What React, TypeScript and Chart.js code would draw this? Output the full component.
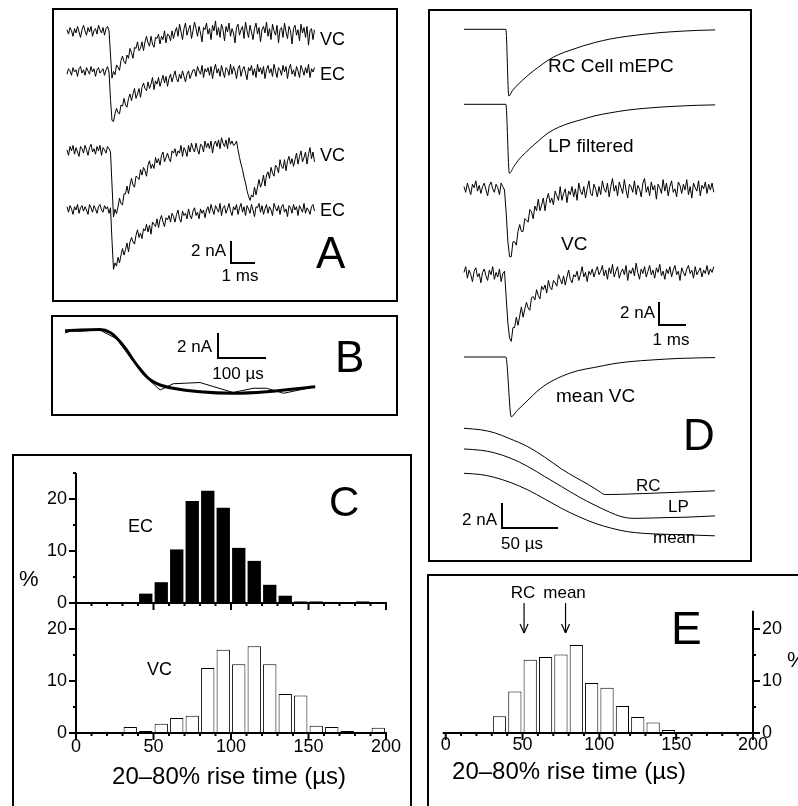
import React, { useEffect, useRef } from 'react';
import { Chart, registerables } from 'chart.js';

Chart.register(...registerables);

const FONT = '"Liberation Sans", Arial, Helvetica, sans-serif';

// ---------------- DATA ----------------
// Panel A: sampled currents (nA, relative to baseline), sample interval A_DT ms
const A_DT = 0.0625;
const A_VC1 = [0.3,-0.1,0.5,0.2,-0.3,0.4,0.0,0.6,0.1,-0.4,0.3,0.7,0.2,-0.2,0.5,0.1,0.6,-0.3,0.2,0.4,-0.1,0.7,0.3,0.0,0.5,-0.2,0.4,0.6,0.2,
  -2.0,-4.1,-3.5,-3.8,-2.9,-3.1,-3.4,-2.5,-2.1,-2.6,-2.8,-2.0,-2.3,-1.4,-1.8,-2.3,-1.3,-1.4,-0.8,-1.6,-1.4,-0.8,-1.6,-0.8,-0.3,-0.9,-1.2,-0.3,-1.0,-1.3,-0.4,-0.5,-0.1,-1.0,-0.3,-0.6,0.2,-0.9,-0.1,-0.2,-0.7,0.2,-0.5,0.1,
  0.5,-0.3,0.8,0.1,-0.6,0.4,0.9,-0.2,0.3,0.7,-0.5,0.2,1.0,0.4,-0.3,0.6,0.0,-0.8,0.5,0.3,0.9,-0.1,0.4,-0.6,0.7,0.2,1.1,-0.2,0.5,-0.4,
  0.8,0.3,-0.7,0.6,0.1,0.9,-0.3,0.4,0.0,-0.9,0.5,0.8,-0.2,0.3,0.6,-0.5,1.0,0.2,-0.4,0.7,0.1,-0.6,0.4,0.9,-0.1,0.5,-0.8,0.3,0.6,0.0,
  1.0,-0.3,0.4,-0.6,0.8,0.2,-0.2,0.7,-0.9,0.3,0.5,-0.4,0.9,0.1,-0.5,0.6,0.2,-1.0,0.4,0.7,-0.2,0.3,-0.7,0.8,0.0,0.5,-0.4,0.6,-1.1,0.2,
  0.4,-0.6,0.3];
const A_EC1 = [-0.2,0.3,0.1,-0.3,0.4,0.0,0.2,-0.4,0.3,0.5,-0.1,0.2,-0.3,0.4,0.1,-0.2,0.5,0.0,0.3,-0.4,0.2,0.4,-0.1,0.1,0.3,-0.3,0.2,0.5,0.0,
  -2.5,-4.4,-4.5,-3.8,-3.3,-3.7,-3.8,-3.0,-3.1,-2.4,-3.0,-3.2,-2.4,-2.0,-2.6,-2.0,-1.5,-2.4,-2.0,-1.5,-2.3,-1.4,-1.0,-1.5,-1.7,-0.9,-1.5,-1.1,-0.5,-1.6,
  -0.8,-1.1,-0.5,-1.3,-0.8,-0.3,-1.0,-0.4,-1.3,-0.6,-0.2,-0.9,-0.4,0.1,-0.6,-0.9,-0.2,-0.6,0.1,-0.4,-0.9,-0.2,0.1,-0.6,-0.2,0.2,
  0.2,-0.4,0.5,0.1,-0.2,0.6,-0.5,0.3,0.0,0.4,-0.3,0.5,-0.6,0.2,0.7,-0.1,0.3,-0.4,0.6,0.0,-0.5,0.4,0.2,-0.3,0.7,-0.2,0.5,0.1,-0.6,0.3,
  0.6,-0.4,0.2,0.5,-0.1,-0.7,0.4,0.1,0.6,-0.3,0.3,-0.5,0.7,0.0,0.4,-0.2,0.5,-0.6,0.2,0.6,-0.1,0.3,-0.4,0.7,0.1,-0.5,0.4,0.2,-0.3,0.6,
  0.0,0.5,-0.6,0.3,0.7,-0.2,0.2,-0.4,0.5,0.1,-0.5,0.6,0.2,-0.3,0.4,-0.1,0.7,-0.5,0.3,0.0,0.4];
const A_VC2 = [0.2,-0.3,0.5,0.1,0.6,-0.2,0.4,0.0,-0.4,0.5,0.3,-0.1,0.6,0.2,-0.3,0.4,0.7,0.0,0.3,-0.2,0.5,0.1,0.6,-0.3,0.4,0.2,-0.1,0.5,0.3,0.0,
  -3.0,-5.9,-5.2,-5.6,-5.0,-4.2,-4.7,-4.8,-3.8,-3.8,-3.1,-3.8,-3.0,-2.4,-3.0,-3.2,-2.2,-2.3,-2.5,-1.6,-2.1,
  -1.4,-1.7,-2.2,-1.2,-0.8,-1.5,-1.1,-1.5,-0.5,-1.0,-0.6,-1.2,-0.3,0.0,-0.9,-0.5,-0.1,-0.6,-0.9,0.1,
  -0.1,0.3,-0.4,0.1,-0.1,0.6,-0.4,0.4,0.1,-0.4,0.6,0.0,0.8,0.3,0.0,0.8,0.2,-0.2,0.7,0.6,
  0.0,1.0,0.4,0.8,0.3,1.0,-0.1,0.7,1.0,0.5,1.1,0.3,1.3,0.8,0.5,1.1,0.3,1.3,0.7,1.0,0.6,
  0.7,1.0,0.2,-0.5,-1.1,-1.6,-2.3,-2.8,-3.5,-4.0,-4.4,
  -3.9,-4.1,-3.2,-3.9,-3.2,-2.5,-3.2,-2.8,-2.1,-3.1,-2.1,-1.8,-2.4,-1.4,-1.9,-2.2,-1.2,-1.4,-1.9,-0.7,
  -1.3,-1.5,-0.7,-1.7,-0.8,-0.4,-1.1,-0.6,-1.3,-0.7,-0.1,-1.1,-0.4,0.1,-0.9,-0.5,0.0,-1.1,-0.2,0.4,
  -0.6,0.0,-0.9];
const A_EC2 = [0.3,-0.2,0.4,0.1,-0.4,0.3,0.0,0.5,-0.3,0.2,0.4,-0.1,0.3,0.0,-0.4,0.5,0.2,-0.2,0.4,0.1,-0.3,0.3,0.5,0.0,-0.2,0.4,0.1,0.3,-0.3,0.2,
  -2.8,-5.4,-4.8,-5.1,-4.3,-4.8,-4.1,-3.5,-4.1,-3.6,-3.0,-3.8,-2.9,-2.5,-2.9,-3.1,-2.3,-1.8,-2.5,-2.1,-2.6,
  -1.7,-1.9,-1.3,-2.0,-1.4,-2.2,-1.1,-1.3,-1.5,-0.8,-1.6,-0.9,-0.5,-1.1,-1.5,-0.7,-0.9,-0.5,-1.1,-0.3,
  -0.6,-1.1,-0.4,0.0,-0.8,-1.1,-0.1,-0.5,-0.3,-0.8,0.1,-0.5,-0.8,-0.1,0.2,-0.5,-0.2,-0.8,0.1,-0.3,0.0,-0.7,0.0,
  0.3,-0.3,0.5,0.0,-0.4,0.4,0.1,-0.2,0.6,-0.5,0.2,0.4,-0.3,0.1,0.6,-0.1,-0.5,0.3,0.0,0.5,
  -0.4,0.2,0.6,-0.2,0.3,-0.5,0.4,0.1,-0.3,0.5,0.0,-0.6,0.3,0.2,0.6,-0.2,0.4,-0.4,0.1,0.5,
  -0.3,0.3,0.0,-0.5,0.6,0.2,-0.1,0.4,-0.4,0.3,0.5,-0.2,0.1,-0.6,0.4,0.2,-0.3,0.5,0.0,0.3,
  -0.5,0.4,0.1,-0.2,0.6,-0.3,0.2,0.0,-0.4,0.3,0.5,-0.1];

// Panel B: rising phase (time µs, current nA)
const B_FIT_T = [-4, 27, 69, 90, 104, 121, 138, 152, 166, 179, 194, 221, 277, 346, 416, 517];
const B_FIT_V = [-0.06, 0, 0.04, -0.2, -0.66, -1.44, -2.4, -3.12, -3.74, -4.12, -4.4, -4.66, -4.94, -5.06, -4.94, -4.54];
const B_RAW_T = [-4, 10, 27, 69, 104, 138, 166, 194, 221, 277, 346, 388, 416, 451, 517];
const B_RAW_V = [-0.24, -0.05, -0.1, 0.0, -0.72, -2.5, -3.84, -4.8, -4.3, -4.2, -5.0, -4.66, -4.66, -5.06, -4.54];

// Panel C / E histograms (% per 10 µs bin)
const BIN_START = [0,10,20,30,40,50,60,70,80,90,100,110,120,130,140,150,160,170,180,190];
const BIN_W = 10;
const EC_PCT = [0,0,0,0,1.8,4.0,10.3,19.6,21.6,18.3,10.6,8.1,3.5,1.4,0.3,0.3,0.2,0,0.3,0];
const VC_PCT = [0,0,0,1.15,0.4,1.8,2.9,3.3,12.5,16.0,13.2,16.7,13.2,7.5,7.2,1.4,1.15,0.4,0,1.0];
const E_PCT = [0,0,0,3.2,8.0,14.1,14.6,15.1,16.9,9.6,8.7,5.2,3.1,2.0,0.6,0,0,0,0,0];
const X_TICKS = [0, 50, 100, 150, 200];
const Y_TICKS = [0, 10, 20];
const E_MARK_LABELS = ['RC', 'mean'];
const E_MARK_VALUES = [51, 78];

// Panel D: slow traces (time ms, current nA)
const D_RC_T = [0, 1.55, 1.66, 1.8, 2.0, 2.37, 2.75, 3.11, 3.5, 3.96, 4.4, 4.85, 5.4, 6.07, 6.7, 7.3, 8.0, 8.6, 9.3];
const D_RC_V = [0, 0, -5.8, -5.3, -4.8, -4.0, -3.3, -2.7, -2.2, -1.8, -1.45, -1.15, -0.85, -0.6, -0.42, -0.28, -0.17, -0.1, -0.05];
const D_LP_T = [0, 1.55, 1.68, 1.85, 2.0, 2.37, 2.75, 3.11, 3.5, 3.96, 4.4, 4.85, 5.4, 6.07, 6.7, 7.3, 8.0, 8.6, 9.3];
const D_LP_V = [0, 0, -6.0, -5.4, -4.9, -4.0, -3.2, -2.5, -2.0, -1.6, -1.3, -1.0, -0.75, -0.5, -0.35, -0.24, -0.15, -0.09, -0.05];
const D_MVC_T = [0, 1.55, 1.75, 1.95, 2.37, 2.7, 3.0, 3.6, 4.2, 4.85, 5.5, 6.07, 7.0, 8.0, 9.3];
const D_MVC_V = [0, 0, -5.2, -4.7, -3.75, -3.0, -2.45, -1.7, -1.2, -0.9, -0.6, -0.42, -0.25, -0.12, -0.05];
const D_DT = 0.0625;
const D_VC1 = [0.3,-0.2,0.6,0.1,-0.4,0.5,0.2,0.8,-0.1,0.4,-0.3,0.3,0.6,0.0,-0.5,0.4,0.7,0.1,-0.2,0.5,0.2,-0.4,0.6,0.3,0.0,
  -2.0,-4.5,-5.8,-5.8,-4.5,-4.5,-4.8,-3.6,-3.0,-3.6,-3.6,-2.5,-2.6,-2.8,-1.7,-1.9,-2.5,-1.4,-1.8,-0.8,-1.8,-1.3,-0.7,-1.8,-0.8,-0.3,
  -1.1,-0.7,-1.3,-0.1,-0.5,-0.9,0.3,-0.9,-0.3,0.1,-1.1,-0.1,-0.4,0.3,-0.6,0.1,-0.9,0.6,-0.1,-0.4,0.3,-0.7,0.1,0.8,-0.3,-0.5,0.5,0.1,-0.6,0.3,
  -0.4,0.8,0.1,-0.2,0.6,-0.6,0.3,1.0,-0.1,0.4,-0.5,0.7,0.2,-0.3,0.9,0.0,-0.7,0.5,0.3,-0.2,
  0.8,-0.4,0.4,0.1,-0.6,0.6,1.0,-0.2,0.3,-0.5,0.7,0.0,0.4,-0.8,0.5,0.2,-0.3,0.9,-0.1,0.6,
  -0.5,0.3,0.8,-0.2,0.1,-0.6,0.7,0.4,-0.3,0.5,0.0,0.9,-0.4,0.3,-0.7,0.6,0.2,-0.1,0.8,-0.5,
  0.4,0.1,0.7,-0.3,0.5,0.0,0.6,-0.2];
const D_VC2 = [0.4,0.9,-0.1,0.6,0.2,-0.4,0.5,0.8,0.0,0.3,-0.5,0.4,0.7,0.1,-0.3,0.6,0.2,0.9,-0.2,0.4,0.0,0.7,-0.4,0.3,0.5,
  -1.8,-4.0,-5.3,-5.6,-4.4,-4.4,-3.5,-4.2,-3.4,-2.6,-3.5,-2.8,-2.2,-2.7,-2.9,-1.8,-1.7,-2.0,-1.1,-1.6,-1.9,-0.8,-1.1,-0.7,-1.4,-0.3,
  -0.9,-1.1,-0.3,-0.5,-0.8,0.2,-0.2,-0.6,0.1,-0.7,0.0,0.6,-0.2,-0.5,0.2,0.0,0.5,-0.3,0.2,0.9,0.0,0.4,-0.4,0.5,0.2,0.7,0.0,0.5,0.9,0.2,
  0.5,1.0,0.1,0.6,-0.2,0.8,0.3,1.1,0.0,0.5,0.9,-0.1,0.4,0.7,0.2,1.0,-0.3,0.6,0.3,0.8,
  0.1,1.2,0.4,-0.2,0.7,0.3,0.9,0.0,0.5,1.0,0.2,0.6,-0.1,0.8,0.4,1.1,0.1,0.5,-0.2,0.7,
  0.3,0.9,0.0,0.6,1.0,0.2,0.5,-0.3,0.8,0.4,0.1,0.7,1.0,0.3,0.6,-0.1,0.9,0.2,0.5,0.8,
  0.0,0.6,0.3,1.0,0.2,0.7,0.4,0.9];
// Panel D: fast rising phases (time µs, current nA)
const D_RCF_T = [0, 15, 27, 40, 57, 72, 87, 100, 111, 120, 126, 140, 160, 190, 224];
const D_RCF_V = [0, -0.12, -0.35, -0.8, -1.47, -2.3, -3.25, -3.95, -4.5, -5.0, -5.3, -5.28, -5.22, -5.12, -5.0];
const D_LPF_T = [0, 15, 27, 42, 57, 72, 87, 102, 117, 130, 140, 152, 175, 200, 224];
const D_LPF_V = [0, -0.1, -0.3, -0.75, -1.4, -2.2, -3.0, -3.8, -4.5, -5.05, -5.4, -5.55, -5.5, -5.45, -5.35];
const D_MF_T = [0, 15, 27, 42, 57, 72, 87, 102, 117, 132, 146, 160, 176, 200, 224];
const D_MF_V = [0, -0.1, -0.32, -0.75, -1.33, -2.05, -2.8, -3.45, -4.0, -4.4, -4.67, -4.8, -4.87, -4.93, -5.0];

// ---------------- HELPERS ----------------
type Txt = [string, number, number, number, CanvasTextAlign?];

const sampled = (vals: number[], dt: number, off: number) => vals.map((v, i) => ({ x: i * dt, y: v + off }));
const paired = (ts: number[], vals: number[], off: number) => ts.map((t, i) => ({ x: t, y: vals[i] + off }));

const lineDs = (data: any[], extra: any = {}) => ({
  type: 'line', data, borderColor: '#000', borderWidth: 1, pointRadius: 0, fill: false, tension: 0, ...extra,
});

const baseOpts = (padding: any, scales: any) => ({
  responsive: false, animation: false, devicePixelRatio: 1, events: [],
  layout: { padding },
  plugins: { legend: { display: false }, tooltip: { enabled: false }, title: { display: false } },
  scales,
});

function decoPlugin(ox: number, oy: number, texts: Txt[], draw?: (chart: any, ctx: CanvasRenderingContext2D) => void) {
  return {
    id: 'deco',
    afterDatasetsDraw(chart: any) {
      const ctx: CanvasRenderingContext2D = chart.ctx;
      ctx.save();
      ctx.strokeStyle = '#000';
      ctx.fillStyle = '#000';
      if (draw) draw(chart, ctx);
      ctx.textBaseline = 'middle';
      for (const [t, x, y, s, a] of texts) {
        ctx.font = `${s}px ${FONT}`;
        ctx.textAlign = a || 'left';
        ctx.fillText(t, x - ox, y - oy);
      }
      ctx.restore();
    },
  };
}

function seg(ctx: CanvasRenderingContext2D, a: number, b: number, c: number, d: number) {
  ctx.beginPath(); ctx.moveTo(a, b); ctx.lineTo(c, d); ctx.stroke();
}

function scaleBar(chart: any, ctx: CanvasRenderingContext2D, cx: number, cy: number, xId: string, yId: string, dx: number, dy: number) {
  const xs = chart.scales[xId], ys = chart.scales[yId];
  const w = xs.getPixelForValue(dx) - xs.getPixelForValue(0);
  const h = ys.getPixelForValue(0) - ys.getPixelForValue(dy);
  ctx.lineWidth = 2;
  ctx.beginPath(); ctx.moveTo(cx, cy - h); ctx.lineTo(cx, cy); ctx.lineTo(cx + w, cy); ctx.stroke();
}

function histAxes(chart: any, ctx: CanvasRenderingContext2D, side: 'left' | 'right', yMax: number, xLabelDy: number | null) {
  const x = chart.scales.x, y = chart.scales.y;
  const px0 = x.getPixelForValue(0), px1 = x.getPixelForValue(200);
  const py0 = y.getPixelForValue(0), pyT = y.getPixelForValue(yMax);
  const ax = side === 'left' ? px0 : px1;
  const dir = side === 'left' ? -1 : 1;
  ctx.lineWidth = 2;
  seg(ctx, ax, pyT, ax, py0 + 1);
  seg(ctx, px0 - 3, py0, px1 + 1, py0);
  for (let v = 0; v <= 200; v += 10) {
    const p = x.getPixelForValue(v);
    seg(ctx, p, py0, p, py0 + (v % 50 === 0 ? 7 : 3));
  }
  for (let v = 0; v <= yMax + 1e-6; v += 5) {
    const p = y.getPixelForValue(v);
    seg(ctx, ax, p, ax + dir * (v % 10 === 0 ? 7 : 3), p);
  }
  ctx.font = `18px ${FONT}`;
  ctx.textBaseline = 'middle';
  ctx.textAlign = side === 'left' ? 'right' : 'left';
  for (const t of Y_TICKS) ctx.fillText(String(t), ax + dir * 9, y.getPixelForValue(t));
  if (xLabelDy !== null) {
    ctx.textAlign = 'center';
    for (const t of X_TICKS) ctx.fillText(String(t), x.getPixelForValue(t), py0 + xLabelDy);
  }
}

function ChartCanvas({ left, top, width, height, build }: { left: number; top: number; width: number; height: number; build: () => any }) {
  const ref = useRef<HTMLCanvasElement>(null);
  useEffect(() => {
    const chart = new Chart(ref.current as HTMLCanvasElement, build());
    return () => chart.destroy();
  }, []);
  return <canvas ref={ref} width={width} height={height} style={{ position: 'absolute', left, top, width, height }} />;
}

function Box({ l, t, w, h }: { l: number; t: number; w: number; h: number }) {
  return <div style={{ position: 'absolute', left: l, top: t, width: w, height: h, border: '2px solid #000', boxSizing: 'border-box' }} />;
}

// ---------------- PANELS ----------------
// Panel A
const A_C = { l: 54, t: 10, w: 342, h: 290 };
const A_PXMS = 24, A_PXNA = 11, A_X0 = 67;
const aOff = (py: number) => (A_C.t + A_C.h - py) / A_PXNA;
const buildA = () => ({
  type: 'line',
  data: {
    datasets: [
      lineDs(sampled(A_VC1, A_DT, aOff(33))),
      lineDs(sampled(A_EC1, A_DT, aOff(72))),
      lineDs(sampled(A_VC2, A_DT, aOff(152))),
      lineDs(sampled(A_EC2, A_DT, aOff(210))),
    ],
  },
  options: baseOpts(0, {
    x: { type: 'linear', display: false, min: (A_C.l - A_X0) / A_PXMS, max: (A_C.l - A_X0 + A_C.w) / A_PXMS },
    y: { type: 'linear', display: false, min: 0, max: A_C.h / A_PXNA },
  }),
  plugins: [decoPlugin(A_C.l, A_C.t, [
    ['VC', 320, 40, 18], ['EC', 320, 75, 18], ['VC', 320, 156, 18], ['EC', 320, 211, 18],
    ['2 nA', 226, 251, 17, 'right'], ['1 ms', 240, 276, 17, 'center'], ['A', 316, 256, 44],
  ], (chart, ctx) => scaleBar(chart, ctx, 231 - A_C.l, 263 - A_C.t, 'x', 'y', 1, 2))],
});

// Panel B
const B_C = { l: 53, t: 317, w: 343, h: 97 };
const B_PXUS = 0.48, B_PXNA = 12.5, B_X0 = 67;
const bOff = (py: number) => (B_C.t + B_C.h - py) / B_PXNA;
const buildB = () => ({
  type: 'line',
  data: {
    datasets: [
      lineDs(paired(B_RAW_T, B_RAW_V, bOff(330)), { borderWidth: 1 }),
      lineDs(paired(B_FIT_T, B_FIT_V, bOff(330)), { borderWidth: 3, cubicInterpolationMode: 'monotone' }),
    ],
  },
  options: baseOpts(0, {
    x: { type: 'linear', display: false, min: (B_C.l - B_X0) / B_PXUS, max: (B_C.l - B_X0 + B_C.w) / B_PXUS },
    y: { type: 'linear', display: false, min: 0, max: B_C.h / B_PXNA },
  }),
  plugins: [decoPlugin(B_C.l, B_C.t, [
    ['2 nA', 212, 347, 17, 'right'], ['100 µs', 238, 374, 17, 'center'], ['B', 335, 360, 44],
  ], (chart, ctx) => scaleBar(chart, ctx, 218 - B_C.l, 358 - B_C.t, 'x', 'y', 100, 2))],
});

// Panel C
const C_C = { l: 14, t: 456, w: 396, h: 350 };
const histData = (vals: number[]) => BIN_START.map((b, i) => ({ x: b + BIN_W / 2, y: vals[i] }));
const histScales = (yMax: number) => ({
  x: { type: 'linear', display: false, min: 0, max: 200, offset: false },
  y: { type: 'linear', display: false, min: 0, max: yMax },
});
const buildCTop = () => ({
  type: 'bar',
  data: { datasets: [{ data: histData(EC_PCT), backgroundColor: '#000', borderWidth: 0, barPercentage: 0.86, categoryPercentage: 1 }] },
  options: baseOpts({ left: 62, right: 24, top: 17, bottom: 203 }, histScales(25)),
  plugins: [decoPlugin(C_C.l, C_C.t, [
    ['EC', 128, 527, 18], ['%', 19, 580, 22], ['C', 329, 504, 42],
  ], (chart, ctx) => histAxes(chart, ctx, 'left', 25, null))],
});
const buildCBot = () => ({
  type: 'bar',
  data: { datasets: [{ data: histData(VC_PCT), backgroundColor: '#fff', borderColor: '#000', borderWidth: 1, barPercentage: 0.86, categoryPercentage: 1 }] },
  options: baseOpts({ left: 62, right: 24, top: 147, bottom: 73 }, histScales(25)),
  plugins: [decoPlugin(C_C.l, C_C.t, [
    ['VC', 147, 670, 18], ['20–80% rise time (µs)', 229, 777, 24, 'center'],
  ], (chart, ctx) => histAxes(chart, ctx, 'left', 25, 14))],
});

// Panel D
const D_C = { l: 430, t: 11, w: 320, h: 549 };
const D_PXMS = 27, D_PXNA = 11.5, D_PXUS = 1.12, D_PXNA2 = 12.5, D_X0 = 464;
const dOff = (py: number) => (D_C.t + D_C.h - py) / D_PXNA;
const dOff2 = (py: number) => (D_C.t + D_C.h - py) / D_PXNA2;
const mono = { cubicInterpolationMode: 'monotone' };
const buildD = () => ({
  type: 'line',
  data: {
    datasets: [
      lineDs(paired(D_RC_T, D_RC_V, dOff(29.3)), mono),
      lineDs(paired(D_LP_T, D_LP_V, dOff(104.3)), mono),
      lineDs(sampled(D_VC1, D_DT, dOff(190))),
      lineDs(sampled(D_VC2, D_DT, dOff(277))),
      lineDs(paired(D_MVC_T, D_MVC_V, dOff(357)), mono),
      lineDs(paired(D_RCF_T, D_RCF_V, dOff2(428.3)), { ...mono, xAxisID: 'x2', yAxisID: 'y2' }),
      lineDs(paired(D_LPF_T, D_LPF_V, dOff2(449)), { ...mono, xAxisID: 'x2', yAxisID: 'y2' }),
      lineDs(paired(D_MF_T, D_MF_V, dOff2(473.3)), { ...mono, xAxisID: 'x2', yAxisID: 'y2' }),
    ],
  },
  options: baseOpts(0, {
    x: { type: 'linear', display: false, min: (D_C.l - D_X0) / D_PXMS, max: (D_C.l - D_X0 + D_C.w) / D_PXMS },
    y: { type: 'linear', display: false, min: 0, max: D_C.h / D_PXNA },
    x2: { type: 'linear', display: false, min: (D_C.l - D_X0) / D_PXUS, max: (D_C.l - D_X0 + D_C.w) / D_PXUS },
    y2: { type: 'linear', display: false, min: 0, max: D_C.h / D_PXNA2 },
  }),
  plugins: [decoPlugin(D_C.l, D_C.t, [
    ['RC Cell mEPC', 548, 67, 19], ['LP filtered', 548, 147, 19], ['VC', 561, 245, 19],
    ['2 nA', 655, 313, 17, 'right'], ['1 ms', 671, 340, 17, 'center'], ['mean VC', 556, 397, 19],
    ['D', 683, 438, 44], ['RC', 636, 486, 17], ['LP', 668, 507, 17], ['mean', 653, 538, 17],
    ['2 nA', 497, 520, 17, 'right'], ['50 µs', 501, 544, 17],
  ], (chart, ctx) => {
    scaleBar(chart, ctx, 659 - D_C.l, 325 - D_C.t, 'x', 'y', 1, 2);
    scaleBar(chart, ctx, 502 - D_C.l, 528 - D_C.t, 'x2', 'y2', 50, 2);
  })],
});

// Panel E
const E_C = { l: 429, t: 576, w: 369, h: 230 };
const buildE = () => ({
  type: 'bar',
  data: { datasets: [{ data: histData(E_PCT), backgroundColor: '#fff', borderColor: '#000', borderWidth: 1, barPercentage: 0.86, categoryPercentage: 1 }] },
  options: baseOpts({ left: 16.7, right: 45, top: 34.8, bottom: 73 }, histScales(23.5)),
  plugins: [decoPlugin(E_C.l, E_C.t, [
    ['20–80% rise time (µs)', 569, 772, 24, 'center'], ['E', 671, 631, 46], ['%', 787, 661, 22],
  ], (chart, ctx) => {
    histAxes(chart, ctx, 'right', 23.5, 12);
    const x = chart.scales.x;
    ctx.lineWidth = 1.2;
    ctx.font = `17px ${FONT}`;
    ctx.textAlign = 'center';
    ctx.textBaseline = 'middle';
    E_MARK_VALUES.forEach((v, i) => {
      const px = x.getPixelForValue(v);
      const y1 = 603 - E_C.t, y2 = 633 - E_C.t;
      seg(ctx, px, y1, px, y2);
      seg(ctx, px - 4, y2 - 9, px, y2);
      seg(ctx, px + 4, y2 - 9, px, y2);
      ctx.fillText(E_MARK_LABELS[i], px - 1, 593 - E_C.t);
    });
  })],
});

export default function App() {
  return (
    <div style={{ position: 'absolute', left: 0, top: 0, width: 798, height: 806, overflow: 'hidden', background: '#fff' }}>
      <Box l={52} t={8} w={346} h={294} />
      <Box l={51} t={315} w={347} h={101} />
      <Box l={12} t={454} w={400} h={400} />
      <Box l={428} t={9} w={324} h={553} />
      <Box l={427} t={574} w={420} h={300} />
      <ChartCanvas left={A_C.l} top={A_C.t} width={A_C.w} height={A_C.h} build={buildA} />
      <ChartCanvas left={B_C.l} top={B_C.t} width={B_C.w} height={B_C.h} build={buildB} />
      <ChartCanvas left={C_C.l} top={C_C.t} width={C_C.w} height={C_C.h} build={buildCTop} />
      <ChartCanvas left={C_C.l} top={C_C.t} width={C_C.w} height={C_C.h} build={buildCBot} />
      <ChartCanvas left={D_C.l} top={D_C.t} width={D_C.w} height={D_C.h} build={buildD} />
      <ChartCanvas left={E_C.l} top={E_C.t} width={E_C.w} height={E_C.h} build={buildE} />
    </div>
  );
}
